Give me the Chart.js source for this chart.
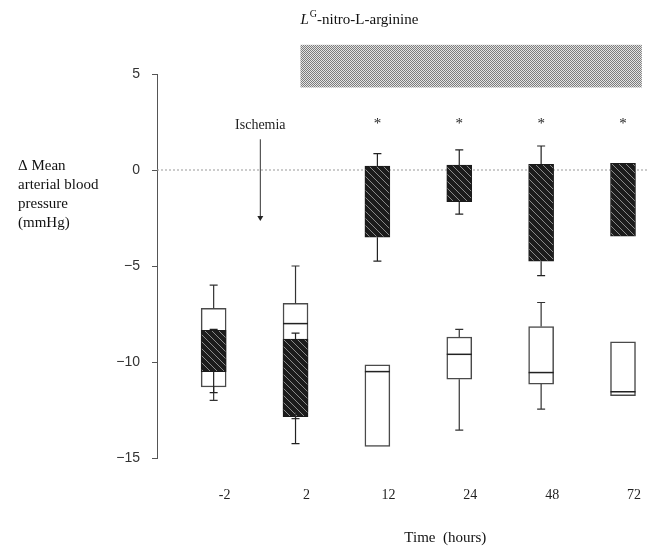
<!DOCTYPE html>
<html>
<head>
<meta charset="utf-8">
<script src="https://cdn.jsdelivr.net/npm/chart.js@4"></script>
<style>
  html, body { margin: 0; padding: 0; background: #fff; }
  canvas { display: block; }
</style>
</head>
<body>
<canvas id="chart" width="651" height="551"></canvas>
<script>
// Mean arterial blood pressure change, box plots per time point
const timeLabels = ['-2', '2', '12', '24', '48', '72'];
const yTicks = [5, 0, -5, -10, -15];

// open boxes (control)
const openWhiskerMax = [-6.0, -5.0, null, -8.3, -6.9, null];
const openQ3 = [-7.2, -6.95, -10.15, -8.7, -8.15, -8.95];
const openMedian = [null, -8.0, -10.5, -9.6, -10.55, -11.55];
const openQ1 = [-11.3, -12.6, -14.4, -10.9, -11.15, -11.75];
const openWhiskerMin = [-12.0, -12.95, null, -13.55, -12.45, null];

// hatched boxes (L-NNA)
const darkWhiskerMax = [-8.3, -8.5, 0.85, 1.05, 1.25, null];
const darkQ3 = [-8.35, -8.8, 0.2, 0.25, 0.3, 0.35];
const darkQ1 = [-10.5, -12.85, -3.5, -1.65, -4.75, -3.45];
const darkWhiskerMin = [-11.6, -14.25, -4.75, -2.3, -5.5, null];

const significant = [false, false, true, true, true, true];

function makeHatch() {
    const c = document.createElement('canvas');
    c.width = 7; c.height = 7;
    const g = c.getContext('2d');
    g.fillStyle = '#1c1c1c';
    g.fillRect(0, 0, 7, 7);
    g.strokeStyle = '#8a8a8a';
    g.lineWidth = 1;
    g.beginPath();
    g.moveTo(-1, -1); g.lineTo(8, 8);
    g.stroke();
    return g.createPattern(c, 'repeat');
}

function makeStipple() {
    const c = document.createElement('canvas');
    c.width = 2; c.height = 2;
    const g = c.getContext('2d');
    g.fillStyle = '#e4e4e4';
    g.fillRect(0, 0, 2, 2);
    g.fillStyle = '#7c7c7c';
    g.fillRect(0, 0, 1, 1);
    g.fillRect(1, 1, 1, 1);
    return g.createPattern(c, 'repeat');
}

function drawWhisker(ctx, x, from, to, yScale, color) {
    if (to === null || from === null) return;
    const y1 = yScale.getPixelForValue(from);
    const y2 = yScale.getPixelForValue(to);
    ctx.strokeStyle = color;
    ctx.lineWidth = 1.2;
    ctx.beginPath();
    ctx.moveTo(x, y1); ctx.lineTo(x, y2);
    ctx.moveTo(x - 4, y2); ctx.lineTo(x + 4, y2);
    ctx.stroke();
}

const annotations = {
    id: 'annotations',
    beforeDatasetsDraw(chart) {
        const {ctx, scales: {x, y}, chartArea} = chart;
        // dotted zero line
        ctx.save();
        ctx.strokeStyle = '#9a9a9a';
        ctx.lineWidth = 1;
        ctx.setLineDash([2, 2]);
        ctx.beginPath();
        ctx.moveTo(chartArea.left, y.getPixelForValue(0));
        ctx.lineTo(chartArea.right, y.getPixelForValue(0));
        ctx.stroke();
        ctx.restore();
    },
    afterDatasetsDraw(chart) {
        const {ctx, scales: {x, y}} = chart;
        ctx.save();

        // whiskers + medians
        timeLabels.forEach((t, i) => {
            const px = x.getPixelForValue(i);
            drawWhisker(ctx, px, openQ3[i], openWhiskerMax[i], y, '#333');
            drawWhisker(ctx, px, openQ1[i], openWhiskerMin[i], y, '#333');
            drawWhisker(ctx, px, darkQ3[i], darkWhiskerMax[i], y, '#222');
            drawWhisker(ctx, px, darkQ1[i], darkWhiskerMin[i], y, '#222');
            if (openMedian[i] !== null) {
                const my = y.getPixelForValue(openMedian[i]);
                ctx.strokeStyle = '#222';
                ctx.lineWidth = 1.5;
                ctx.beginPath();
                ctx.moveTo(px - 12.5, my); ctx.lineTo(px + 12.5, my);
                ctx.stroke();
            }
            if (significant[i]) {
                ctx.fillStyle = '#222';
                ctx.font = '15px "Liberation Serif"';
                ctx.textAlign = 'center';
                ctx.textBaseline = 'middle';
                ctx.fillText('*', px, y.getPixelForValue(2.4));
            }
        });

        // Ischemia arrow
        const ax = x.getPixelForValue(0.57);
        ctx.fillStyle = '#222';
        ctx.font = '14px "Liberation Serif"';
        ctx.textAlign = 'center';
        ctx.textBaseline = 'middle';
        ctx.fillText('Ischemia', ax, y.getPixelForValue(2.35));
        const aTop = y.getPixelForValue(1.6);
        const aBot = y.getPixelForValue(-2.65);
        ctx.strokeStyle = '#333';
        ctx.lineWidth = 1;
        ctx.beginPath();
        ctx.moveTo(ax, aTop); ctx.lineTo(ax, aBot - 4);
        ctx.stroke();
        ctx.beginPath();
        ctx.moveTo(ax - 3, aBot - 5); ctx.lineTo(ax + 3, aBot - 5); ctx.lineTo(ax, aBot);
        ctx.closePath();
        ctx.fill();

        // treatment bar and label
        const bx1 = x.getPixelForValue(1.06);
        const bx2 = x.getPixelForValue(5.23);
        const by1 = y.getPixelForValue(6.52);
        const by2 = y.getPixelForValue(4.3);
        ctx.fillStyle = makeStipple();
        ctx.fillRect(bx1, by1, bx2 - bx1, by2 - by1);

        ctx.fillStyle = '#111';
        ctx.textAlign = 'left';
        ctx.textBaseline = 'alphabetic';
        let tx = bx1;
        const ty = y.getPixelForValue(7.6);
        ctx.font = 'italic 15px "Liberation Serif"';
        ctx.fillText('L', tx, ty);
        tx += ctx.measureText('L').width + 1;
        ctx.font = '10px "Liberation Serif"';
        ctx.fillText('G', tx, ty - 7);
        tx += ctx.measureText('G').width;
        ctx.font = '15px "Liberation Serif"';
        ctx.fillText('-nitro-L-arginine', tx, ty);

        // y axis title (horizontal, multi-line)
        const yLines = ['\u0394 Mean', 'arterial blood', 'pressure', '(mmHg)'];
        ctx.font = '15px "Liberation Serif"';
        ctx.textBaseline = 'middle';
        yLines.forEach((line, k) => {
            ctx.fillText(line, 18, y.getPixelForValue(0) - 4 + k * 19);
        });

        // x axis title
        ctx.textAlign = 'center';
        ctx.font = '15px "Liberation Serif"';
        ctx.fillText('Time  (hours)', x.getPixelForValue(2.83), 538);

        ctx.restore();
    }
};

const ctx = document.getElementById('chart').getContext('2d');

new Chart(ctx, {
    type: 'bar',
    data: {
        datasets: [
            {
                label: 'L-NNA',
                data: timeLabels.map((t, i) => ({x: i, y: [darkQ1[i], darkQ3[i]]})),
                backgroundColor: makeHatch(),
                borderColor: '#1a1a1a',
                borderWidth: 1,
                borderSkipped: false,
                barThickness: 25,
                grouped: false,
                order: 1
            },
            {
                label: 'Control',
                data: timeLabels.map((t, i) => ({x: i, y: [openQ1[i], openQ3[i]]})),
                backgroundColor: '#ffffff',
                borderColor: '#4a4a4a',
                borderWidth: 1.5,
                borderSkipped: false,
                barThickness: 25,
                grouped: false,
                order: 2
            }
        ]
    },
    options: {
        responsive: false,
        animation: false,
        layout: {padding: {top: 74, left: 0, right: 0, bottom: 0}},
        plugins: {
            legend: {display: false},
            tooltip: {enabled: false}
        },
        scales: {
            x: {
                type: 'linear',
                offset: false,
                min: -0.692,
                max: 5.303,
                afterFit: s => { s.height = 93; },
                afterBuildTicks: s => { s.ticks = timeLabels.map((t, i) => ({value: i})); },
                grid: {display: false},
                border: {display: false},
                ticks: {
                    autoSkip: false,
                    maxRotation: 0,
                    padding: 21,
                    labelOffset: 11,
                    color: '#222',
                    font: {family: '"Liberation Serif"', size: 14},
                    callback: v => timeLabels[v]
                }
            },
            y: {
                min: -15,
                max: 5,
                afterFit: s => { s.width = 157; },
                afterBuildTicks: s => { s.ticks = yTicks.map(v => ({value: v})); },
                grid: {drawOnChartArea: false, drawTicks: true, tickLength: 5, tickColor: '#555'},
                border: {display: true, color: '#555', width: 1},
                ticks: {
                    padding: 12,
                    color: '#333',
                    font: {family: '"Liberation Sans"', size: 14},
                    callback: v => v < 0 ? '\u2212' + Math.abs(v) : String(v)
                }
            }
        }
    },
    plugins: [annotations]
});
</script>
</body>
</html>
